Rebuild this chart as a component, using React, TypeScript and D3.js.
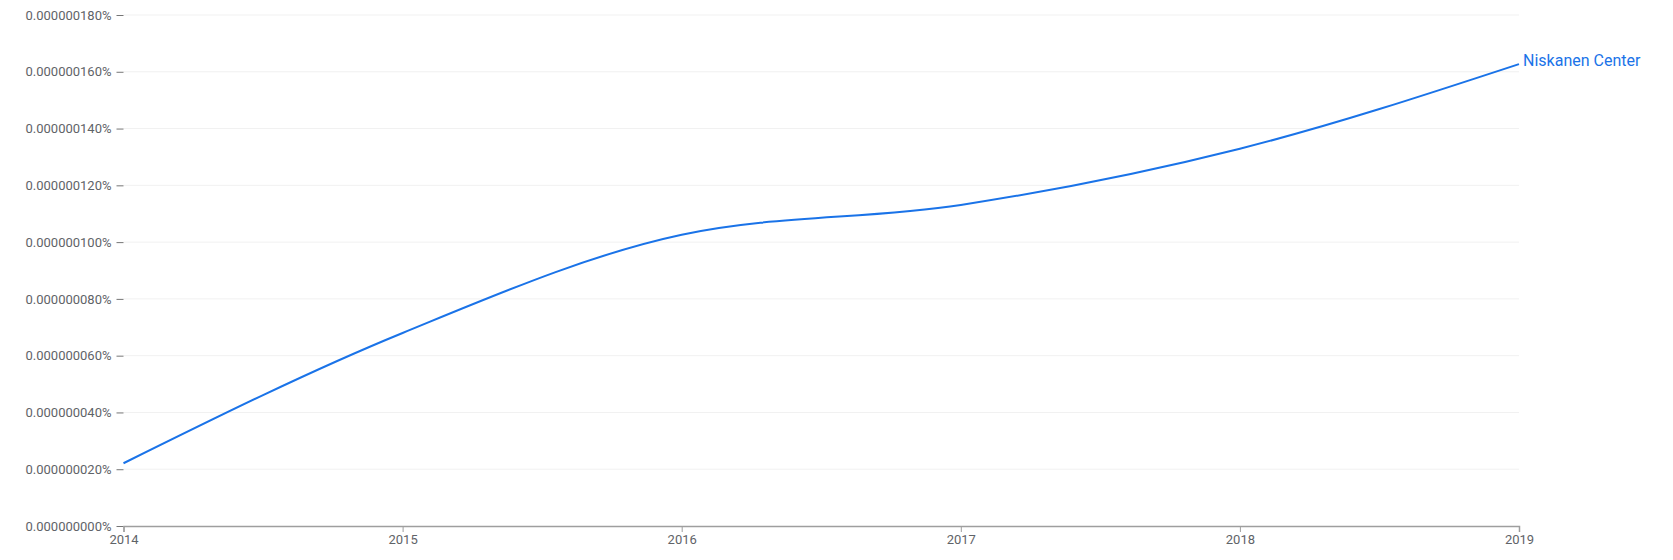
import React, { useEffect, useRef } from 'react'
import * as d3 from 'd3'

// values are in percent
const years = [2014, 2015, 2016, 2017, 2018, 2019]
const values = [0.0000000221, 0.000000068, 0.0000001026, 0.0000001131, 0.0000001329, 0.0000001627]
const yTicks = [0, 0.00000002, 0.00000004, 0.00000006, 0.00000008, 0.0000001, 0.00000012, 0.00000014, 0.00000016, 0.00000018]
const seriesName = 'Niskanen Center'

const App = () => {
    const ref = useRef<SVGSVGElement>(null)

    useEffect(() => {
        document.body.style.margin = '0'
        const width = 1673, height = 560
        const margin = { top: 15, right: 154, bottom: 34, left: 123.5 }

        const svg = d3.select(ref.current)
        svg.selectAll('*').remove()

        const x = d3.scaleLinear()
            .domain([2014, 2019])
            .range([margin.left, width - margin.right])
        const y = d3.scaleLinear()
            .domain([0, 0.00000018])
            .range([height - margin.bottom, margin.top])

        const fmt = (d: number) => d.toFixed(9) + '%'

        // gridlines
        svg.append('g')
            .selectAll('line')
            .data(yTicks.slice(1))
            .enter()
            .append('line')
            .attr('x1', margin.left)
            .attr('x2', width - margin.right)
            .attr('y1', d => y(d))
            .attr('y2', d => y(d))
            .attr('stroke', '#f1f1f1')

        const yAxis = svg.append('g')
            .attr('transform', `translate(${margin.left},0)`)
            .call(d3.axisLeft(y).tickValues(yTicks).tickFormat(d => fmt(+d)).tickSize(7).tickPadding(5))
        yAxis.select('.domain').remove()
        yAxis.selectAll('line').attr('stroke', '#757575')
        yAxis.selectAll('text')
            .attr('fill', '#5f6368')
            .style('font-family', 'Roboto')
            .style('font-size', '13px')

        const xAxis = svg.append('g')
            .attr('transform', `translate(0,${height - margin.bottom})`)
            .call(d3.axisBottom(x).tickValues(years).tickFormat(d3.format('d')).tickSizeOuter(0).tickSize(6).tickPadding(3))
        xAxis.select('.domain').attr('stroke', '#9e9e9e').attr('stroke-width', 1.5)
        xAxis.selectAll('line').attr('stroke', '#9e9e9e')
        xAxis.selectAll('text')
            .attr('fill', '#5f6368')
            .style('font-family', 'Roboto')
            .style('font-size', '13px')

        const line = d3.line<number>()
            .x((d, i) => x(years[i]))
            .y(d => y(d))
            .curve(d3.curveMonotoneX)

        svg.append('path')
            .datum(values)
            .attr('d', line)
            .attr('fill', 'none')
            .attr('stroke', '#1a73e8')
            .attr('stroke-width', 2)

        svg.append('text')
            .attr('x', x(2019) + 4)
            .attr('y', y(values[values.length - 1]))
            .attr('dy', '0.1em')
            .attr('fill', '#1a73e8')
            .style('font-family', 'Roboto')
            .style('font-size', '16px')
            .text(seriesName)
    }, [])

    return <svg ref={ref} width={1673} height={560}></svg>
}

export default App
